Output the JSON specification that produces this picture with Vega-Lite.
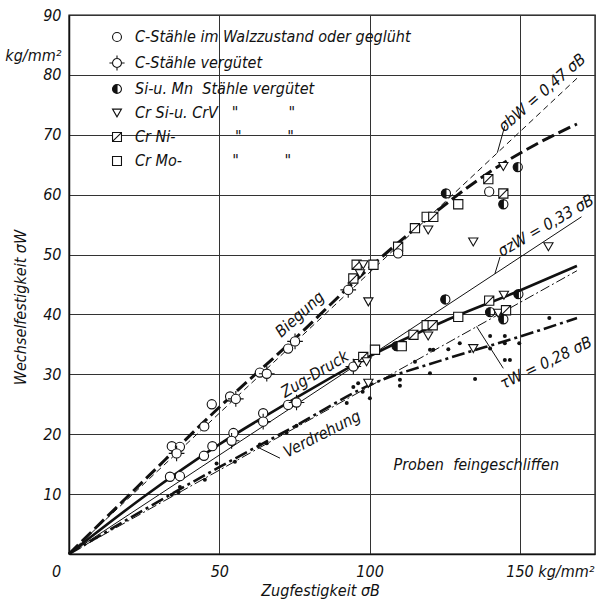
{
  "$schema": "https://vega.github.io/schema/vega-lite/v6.json",
  "width": 526,
  "height": 539,
  "autosize": "none",
  "padding": {"left": 69, "top": 15, "right": 2, "bottom": 48},
  "background": "white",
  "config": {
    "view": {"stroke": "#111", "strokeWidth": 1.4},
    "font": "DejaVu Sans Condensed, DejaVu Sans, sans-serif",
    "text": {"font": "DejaVu Sans Condensed, DejaVu Sans, sans-serif", "fontStyle": "italic", "fontSize": 16, "color": "#111"}
  },
  "datasets": {
    "curves": [
      {"c": "lv", "x": 62.5, "y": 17.9}, {"c": "lv", "x": 70.2, "y": 16.0},
      {"c": "lb", "x": 142.5, "y": 67.0}, {"c": "lb", "x": 145.0, "y": 71.5},
      {"c": "lz", "x": 141.7, "y": 46.8}, {"c": "lz", "x": 143.4, "y": 49.6},
      {"c": "lt", "x": 135.6, "y": 38.0}, {"c": "lt", "x": 144.5, "y": 31.0},
      {"c": "Biegung", "x": 0, "y": 0}, {"c": "Biegung", "x": 25, "y": 12.3}, {"c": "Biegung", "x": 50, "y": 24.5}, {"c": "Biegung", "x": 75, "y": 35.9}, {"c": "Biegung", "x": 100, "y": 47.8}, {"c": "Biegung", "x": 120, "y": 56.3}, {"c": "Biegung", "x": 140, "y": 63.8}, {"c": "Biegung", "x": 155, "y": 68.3}, {"c": "Biegung", "x": 169, "y": 71.8},
      {"c": "Zug", "x": 0, "y": 0}, {"c": "Zug", "x": 25, "y": 9.6}, {"c": "Zug", "x": 50, "y": 18.3}, {"c": "Zug", "x": 75, "y": 25.9}, {"c": "Zug", "x": 100, "y": 33.0}, {"c": "Zug", "x": 125, "y": 38.9}, {"c": "Zug", "x": 150, "y": 44.0}, {"c": "Zug", "x": 169, "y": 48.1},
      {"c": "Verd", "x": 0, "y": 0}, {"c": "Verd", "x": 25, "y": 7.4}, {"c": "Verd", "x": 50, "y": 14.5}, {"c": "Verd", "x": 75, "y": 21.3}, {"c": "Verd", "x": 100, "y": 28.2}, {"c": "Verd", "x": 125, "y": 32.5}, {"c": "Verd", "x": 150, "y": 36.3}, {"c": "Verd", "x": 169, "y": 39.4},
      {"c": "sbw", "x": 0, "y": 0}, {"c": "sbw", "x": 170, "y": 79.9},
      {"c": "szw", "x": 0, "y": 0}, {"c": "szw", "x": 170.5, "y": 56.3},
      {"c": "tw", "x": 0, "y": 0}, {"c": "tw", "x": 169, "y": 47.3}
    ],
    "pts": [
      {"x": 34.2, "y": 18.0, "s": "walz"}, {"x": 36.9, "y": 17.9, "s": "walz"}, {"x": 35.8, "y": 16.8, "s": "verg"}, {"x": 45.0, "y": 21.3, "s": "walz"}, {"x": 47.5, "y": 25.0, "s": "walz"}, {"x": 53.6, "y": 26.3, "s": "walz"}, {"x": 55.5, "y": 25.9, "s": "verg"}, {"x": 63.5, "y": 30.3, "s": "walz"}, {"x": 65.8, "y": 30.1, "s": "verg"}, {"x": 72.9, "y": 34.3, "s": "walz"}, {"x": 75.2, "y": 35.5, "s": "verg"}, {"x": 92.9, "y": 44.1, "s": "verg"}, {"x": 94.6, "y": 46.0, "s": "crni"}, {"x": 95.7, "y": 48.3, "s": "crni"}, {"x": 97.9, "y": 48.3, "s": "crsi"}, {"x": 101.3, "y": 48.3, "s": "crmo"}, {"x": 96.8, "y": 46.8, "s": "crsi"}, {"x": 99.6, "y": 42.1, "s": "crsi"}, {"x": 109.5, "y": 51.3, "s": "crni"}, {"x": 109.5, "y": 50.2, "s": "walz"}, {"x": 115.1, "y": 54.4, "s": "crni"}, {"x": 119.5, "y": 54.1, "s": "crsi"}, {"x": 119.0, "y": 56.3, "s": "crmo"}, {"x": 121.2, "y": 56.3, "s": "crni"}, {"x": 125.4, "y": 60.2, "s": "simn"}, {"x": 129.5, "y": 58.4, "s": "crmo"}, {"x": 134.5, "y": 52.1, "s": "crsi"}, {"x": 139.5, "y": 62.6, "s": "crni"}, {"x": 139.8, "y": 60.5, "s": "walz"}, {"x": 144.5, "y": 60.2, "s": "crni"}, {"x": 144.5, "y": 58.4, "s": "simn"}, {"x": 144.5, "y": 64.7, "s": "crsi"}, {"x": 149.3, "y": 64.6, "s": "simn"}, {"x": 159.5, "y": 51.3, "s": "crsi"},
      {"x": 33.6, "y": 12.9, "s": "walz"}, {"x": 36.9, "y": 13.0, "s": "walz"}, {"x": 44.9, "y": 16.4, "s": "walz"}, {"x": 47.7, "y": 18.0, "s": "walz"}, {"x": 54.7, "y": 20.2, "s": "walz"}, {"x": 54.1, "y": 18.9, "s": "verg"}, {"x": 64.6, "y": 23.5, "s": "walz"}, {"x": 64.6, "y": 22.1, "s": "verg"}, {"x": 72.9, "y": 24.9, "s": "walz"}, {"x": 75.7, "y": 25.3, "s": "verg"}, {"x": 94.6, "y": 31.3, "s": "verg"}, {"x": 96.2, "y": 31.8, "s": "crsi"}, {"x": 97.9, "y": 32.9, "s": "crni"}, {"x": 99.0, "y": 32.1, "s": "crsi"}, {"x": 101.8, "y": 34.1, "s": "crmo"}, {"x": 109.0, "y": 34.7, "s": "simn"}, {"x": 110.7, "y": 34.7, "s": "crmo"}, {"x": 114.6, "y": 36.6, "s": "crni"}, {"x": 119.5, "y": 36.4, "s": "crsi"}, {"x": 119.0, "y": 38.2, "s": "crmo"}, {"x": 121.0, "y": 38.2, "s": "crni"}, {"x": 125.2, "y": 42.5, "s": "simn"}, {"x": 129.5, "y": 39.6, "s": "crmo"}, {"x": 139.8, "y": 42.3, "s": "crni"}, {"x": 144.7, "y": 43.2, "s": "crsi"}, {"x": 149.5, "y": 43.4, "s": "simn"}, {"x": 140.1, "y": 40.4, "s": "simn"}, {"x": 142.8, "y": 40.2, "s": "crsi"}, {"x": 145.4, "y": 40.7, "s": "crni"}, {"x": 144.5, "y": 39.2, "s": "simn"},
      {"x": 99.6, "y": 28.5, "s": "crsi"}, {"x": 134.5, "y": 34.3, "s": "crsi"}
    ],
    "dots": [
      {"x": 34.2, "y": 9.9}, {"x": 36.4, "y": 10.3}, {"x": 36.9, "y": 11.2}, {"x": 45.2, "y": 12.4}, {"x": 49.1, "y": 15.1}, {"x": 55.2, "y": 15.4}, {"x": 63.5, "y": 18.3}, {"x": 65.8, "y": 18.5}, {"x": 72.4, "y": 20.3}, {"x": 75.7, "y": 21.4}, {"x": 92.4, "y": 25.2}, {"x": 94.6, "y": 27.9}, {"x": 96.2, "y": 28.5}, {"x": 97.7, "y": 27.1}, {"x": 100.1, "y": 26.0}, {"x": 110.1, "y": 29.1}, {"x": 110.1, "y": 28.1}, {"x": 115.1, "y": 32.1}, {"x": 120.1, "y": 30.2}, {"x": 120.1, "y": 34.1}, {"x": 121.2, "y": 34.1}, {"x": 126.2, "y": 34.2}, {"x": 130.0, "y": 35.2}, {"x": 135.1, "y": 29.2}, {"x": 140.1, "y": 36.4}, {"x": 140.1, "y": 34.3}, {"x": 145.0, "y": 36.4}, {"x": 145.0, "y": 35.2}, {"x": 145.0, "y": 32.4}, {"x": 146.7, "y": 32.4}, {"x": 149.8, "y": 35.2}, {"x": 159.8, "y": 39.4}
    ]
  },
  "encoding": {
    "x": {
      "field": "x", "type": "quantitative",
      "scale": {"domain": [0, 175], "nice": false, "zero": true},
      "axis": {
        "values": [0, 50, 100, 150],
        "title": "Zugfestigkeit  σB",
        "grid": true, "gridColor": "#333", "gridWidth": 1, "gridOpacity": 1,
        "tickOpacity": 0, "domainColor": "#111", "domainWidth": 1.5,
        "labelFont": "DejaVu Sans Condensed, DejaVu Sans, sans-serif",
        "labelFontSize": 16, "labelFontStyle": "italic", "labelColor": "#111", "labelPadding": 4,
        "labelExpr": "datum.value == 150 ? '150 kg/mm²' : datum.label",
        "labelOffset": {"condition": [{"test": "datum.value == 0", "value": -13}, {"test": "datum.value == 150", "value": 30}], "value": 0},
        "labelFlush": false, "labelOverlap": false, "labelBound": false,
        "titleFont": "DejaVu Sans Condensed, DejaVu Sans, sans-serif",
        "titleFontSize": 16, "titleFontStyle": "italic", "titleFontWeight": "normal", "titleColor": "#111",
        "titleX": 251, "titleY": 36, "titleBaseline": "middle", "titleAlign": "center"
      }
    },
    "y": {
      "field": "y", "type": "quantitative",
      "scale": {"domain": [0, 90], "nice": false, "zero": true},
      "axis": {
        "values": [10, 20, 30, 40, 50, 60, 70, 80, 83.3, 90],
        "title": "Wechselfestigkeit  σW",
        "grid": true, "gridColor": "#333", "gridWidth": 1,
        "gridOpacity": {"condition": {"test": "datum.value == 83.3", "value": 0}, "value": 1},
        "tickOpacity": 0, "domainColor": "#111", "domainWidth": 1.5,
        "labelFont": "DejaVu Sans Condensed, DejaVu Sans, sans-serif",
        "labelFontSize": 16, "labelFontStyle": "italic", "labelColor": "#111", "labelPadding": 3,
        "labelExpr": "datum.value == 83.3 ? 'kg/mm²' : datum.label",
        "labelOverlap": false, "labelBound": false, "labelFlush": false,
        "titleFont": "DejaVu Sans Condensed, DejaVu Sans, sans-serif",
        "titleFontSize": 16, "titleFontStyle": "italic", "titleFontWeight": "normal", "titleColor": "#111",
        "titleX": -49, "titleY": 292, "titleAngle": 270, "titleBaseline": "middle", "titleAlign": "center"
      }
    }
  },
  "layer": [
    {"data": {"name": "curves"}, "transform": [{"filter": "datum.c == 'sbw'"}], "mark": {"type": "line", "color": "#111", "strokeWidth": 1, "strokeDash": [6, 4]}},
    {"data": {"name": "curves"}, "transform": [{"filter": "datum.c == 'szw'"}], "mark": {"type": "line", "color": "#111", "strokeWidth": 1}},
    {"data": {"name": "curves"}, "transform": [{"filter": "datum.c == 'tw'"}], "mark": {"type": "line", "color": "#111", "strokeWidth": 1, "strokeDash": [10, 3, 2, 3]}},
    {"data": {"name": "curves"}, "transform": [{"filter": "datum.c == 'Biegung'"}], "mark": {"type": "line", "color": "#111", "strokeWidth": 3, "strokeDash": [13, 5], "interpolate": "monotone"}},
    {"data": {"name": "curves"}, "transform": [{"filter": "datum.c == 'Zug'"}], "mark": {"type": "line", "color": "#111", "strokeWidth": 2.6, "interpolate": "monotone"}},
    {"data": {"name": "curves"}, "transform": [{"filter": "datum.c == 'Verd'"}], "mark": {"type": "line", "color": "#111", "strokeWidth": 2.6, "strokeDash": [13, 4, 3, 4], "interpolate": "monotone"}},
    {"data": {"name": "curves"}, "transform": [{"filter": "datum.c == 'lv'"}], "mark": {"type": "line", "color": "#111", "strokeWidth": 1}},
    {"data": {"name": "curves"}, "transform": [{"filter": "datum.c == 'lb'"}], "mark": {"type": "line", "color": "#111", "strokeWidth": 1}},
    {"data": {"name": "curves"}, "transform": [{"filter": "datum.c == 'lz'"}], "mark": {"type": "line", "color": "#111", "strokeWidth": 1}},
    {"data": {"name": "curves"}, "transform": [{"filter": "datum.c == 'lt'"}], "mark": {"type": "line", "color": "#111", "strokeWidth": 1}},
    {"data": {"name": "dots"}, "mark": {"type": "point", "shape": "circle", "filled": true, "color": "#111", "size": 16, "opacity": 1}},
    {
      "data": {"name": "pts"},
      "mark": {"type": "point", "strokeWidth": 1.1, "size": 85, "opacity": 1},
      "encoding": {
        "shape": {
          "field": "s", "type": "nominal",
          "scale": {
            "domain": ["walz", "verg", "simn", "crsi", "crni", "crmo"],
            "range": [
              "circle",
              "M0,-1A1,1,0,1,1,0,1A1,1,0,1,1,0,-1ZM0,-1L0,-1.7M0,1L0,1.7M-1,0L-1.7,0M1,0L1.7,0",
              "M0,-1A1,1,0,1,1,0,1A1,1,0,1,1,0,-1ZM0,-1L0,1A1,1,0,0,0,0,-1Z",
              "triangle-down",
              "M-1,-1L1,-1L1,1L-1,1ZM-1,1L1,-1",
              "square"
            ]
          },
          "legend": {
            "title": null, "orient": "none", "legendX": 40, "legendY": 14, "padding": 0,
            "labelFont": "DejaVu Sans Condensed, DejaVu Sans, sans-serif",
            "labelFontSize": 16, "labelFontStyle": "italic", "labelColor": "#111", "labelLimit": 450,
            "labelOffset": 10, "rowPadding": 8, "symbolSize": 80, "symbolStrokeWidth": 1.1, "symbolOpacity": 1,
            "labelExpr": "{'walz': 'C-Stähle im Walzzustand oder geglüht', 'verg': 'C-Stähle vergütet', 'simn': 'Si-u. Mn\u00a0\u00a0Stähle vergütet', 'crsi': 'Cr Si-u. CrV\u00a0\u00a0\u00a0\"\u00a0\u00a0\u00a0\u00a0\u00a0\u00a0\u00a0\u00a0\u00a0\u00a0\u00a0\"', 'crni': 'Cr Ni-\u00a0\u00a0\u00a0\u00a0\u00a0\u00a0\u00a0\u00a0\u00a0\u00a0\u00a0\u00a0\u00a0\"\u00a0\u00a0\u00a0\u00a0\u00a0\u00a0\u00a0\u00a0\u00a0\u00a0\"', 'crmo': 'Cr Mo-\u00a0\u00a0\u00a0\u00a0\u00a0\u00a0\u00a0\u00a0\u00a0\u00a0\u00a0\"\u00a0\u00a0\u00a0\u00a0\u00a0\u00a0\u00a0\u00a0\u00a0\u00a0\"'}[datum.label]"
          }
        },
        "fill": {
          "field": "s", "type": "nominal",
          "scale": {"domain": ["walz", "verg", "simn", "crsi", "crni", "crmo"], "range": ["white", "white", "#111", "white", "white", "white"]}
        },
        "stroke": {
          "field": "s", "type": "nominal",
          "scale": {"domain": ["walz", "verg", "simn", "crsi", "crni", "crmo"], "range": ["#111", "#111", "#111", "#111", "#111", "#111"]}
        }
      }
    },
    {"data": {"values": [{"x": 76.8, "y": 40.0, "t": "Biegung"}]}, "mark": {"type": "text", "angle": 318, "align": "center", "baseline": "middle"}, "encoding": {"text": {"field": "t"}}},
    {"data": {"values": [{"x": 81.8, "y": 30.0, "t": "Zug-Druck"}]}, "mark": {"type": "text", "angle": 329, "align": "center", "baseline": "middle"}, "encoding": {"text": {"field": "t"}}},
    {"data": {"values": [{"x": 84.2, "y": 20.0, "t": "Verdrehung"}]}, "mark": {"type": "text", "angle": 333, "align": "center", "baseline": "middle"}, "encoding": {"text": {"field": "t"}}},
    {"data": {"values": [{"x": 157.4, "y": 77.0, "t": "σbW = 0,47 σB"}]}, "mark": {"type": "text", "angle": 319, "align": "center", "baseline": "middle"}, "encoding": {"text": {"field": "t"}}},
    {"data": {"values": [{"x": 158.7, "y": 54.8, "t": "σzW = 0,33 σB"}]}, "mark": {"type": "text", "angle": 330, "align": "center", "baseline": "middle"}, "encoding": {"text": {"field": "t"}}},
    {"data": {"values": [{"x": 158.7, "y": 31.9, "t": "τW = 0,28 σB"}]}, "mark": {"type": "text", "angle": 334, "align": "center", "baseline": "middle"}, "encoding": {"text": {"field": "t"}}},
    {"data": {"values": [{"x": 135.5, "y": 14.9, "t": "Proben\u00a0\u00a0feingeschliffen"}]}, "mark": {"type": "text", "align": "center", "baseline": "middle"}, "encoding": {"text": {"field": "t"}}}
  ]
}
